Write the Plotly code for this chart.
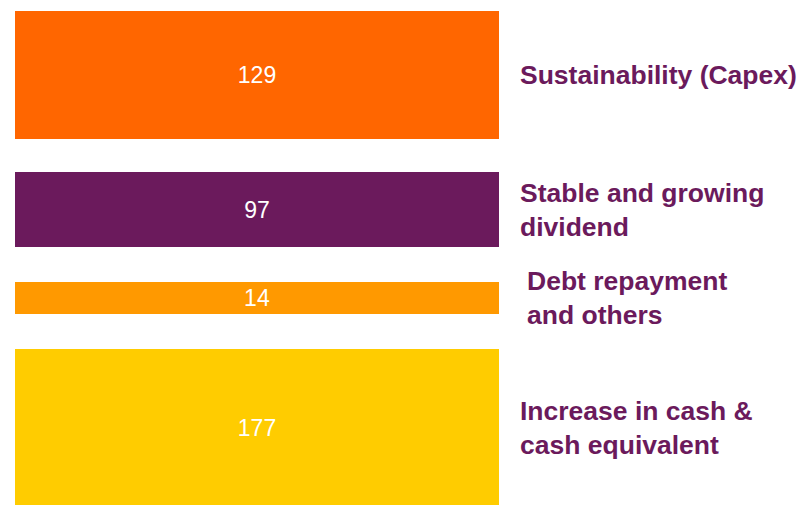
import plotly.graph_objects as go

# ---- data ----
categories = ["Sustainability (Capex)", "Stable and growing<br>dividend",
              "Debt repayment<br>and others", "Increase in cash &<br>cash equivalent"]
values = [129, 97, 14, 177]

# ---- layout / style (pixel-based positions, not data) ----
colors = ["#FF6600", "#6B1A5C", "#FF9900", "#FFCC00"]
row_centers = [75, 209.5, 298, 428]
row_heights = [128, 75, 32, 158]
label_x = [518, 518, 525, 518]
bar_left = 15
bar_len = 484

fig = go.Figure()
fig.add_trace(go.Bar(
    orientation="h",
    y=row_centers,
    x=[bar_len] * len(values),
    base=bar_left,
    width=row_heights,
    marker=dict(color=colors, line=dict(width=0)),
    text=[str(v) for v in values],
    textposition="inside",
    insidetextanchor="middle",
    textangle=0,
    textfont=dict(family="Liberation Sans, Arial", size=23, color="white"),
    hoverinfo="skip",
    showlegend=False,
))

for cat, yc, lx in zip(categories, row_centers, label_x):
    fig.add_annotation(
        x=lx, y=yc, xref="x", yref="y",
        text="<b>" + cat + "</b>",
        xanchor="left", yanchor="middle", align="left",
        showarrow=False,
        font=dict(family="Liberation Sans, Arial", size=26.5, color="#6B1A5C"),
    )

fig.update_layout(
    width=800, height=505,
    margin=dict(l=0, r=0, t=0, b=0),
    paper_bgcolor="white", plot_bgcolor="white",
    xaxis=dict(range=[0, 800], visible=False, fixedrange=True),
    yaxis=dict(range=[505, 0], visible=False, fixedrange=True),
    bargap=0,
)

fig.write_html(
    "out.html",
    config={"displayModeBar": False},
    post_script="document.body.style.margin='0';document.body.style.overflow='hidden';",
)
